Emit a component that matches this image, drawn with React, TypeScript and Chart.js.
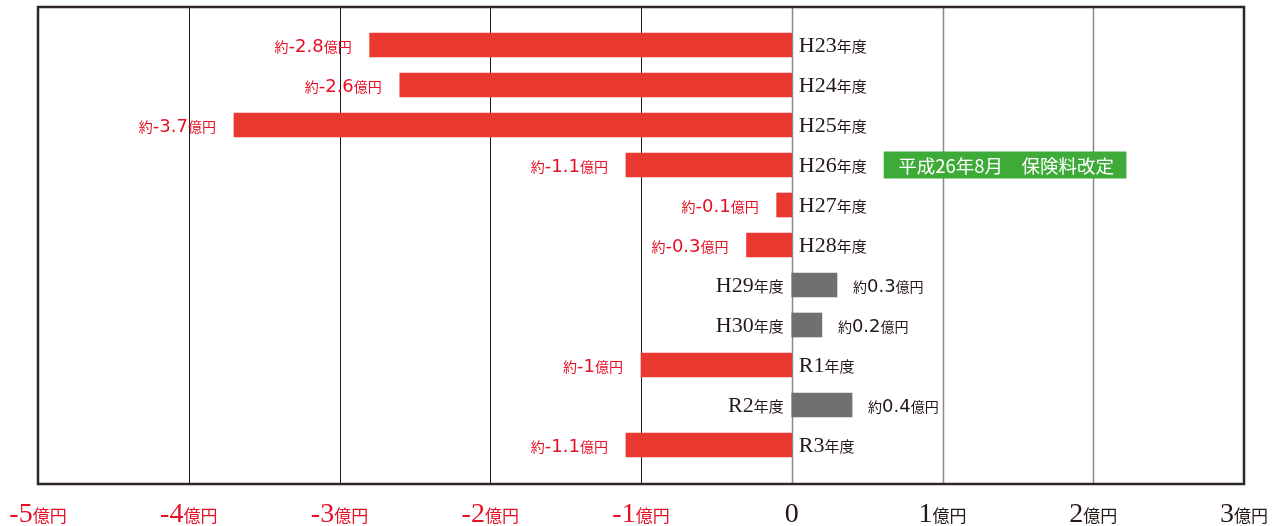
import React, { useEffect, useRef } from "react";
import { Chart, registerables } from "chart.js";

Chart.register(...registerables);

const categories = ["H23", "H24", "H25", "H26", "H27", "H28", "H29", "H30", "R1", "R2", "R3"];
const categorySuffix = "年度";
const values = [-2.8, -2.6, -3.7, -1.1, -0.1, -0.3, 0.3, 0.2, -1, 0.4, -1.1];
const xTicks = [-5, -4, -3, -2, -1, 0, 1, 2, 3];
const unitLabel = "億円";
const approxLabel = "約";
const noteText = "平成26年8月　保険料改定";
const noteRange = [0.61, 2.22];
const noteIndex = 3;

const RED_BAR = "#e8382f";
const RED_TEXT = "#e60f24";
const GRAY_BAR = "#717071";
const INK = "#231815";
const GREEN = "#3eab38";

const SERIF = "'Liberation Serif', serif";
const SANS = "'DejaVu Sans', sans-serif";
const CJK = "'Noto Sans CJK JP', sans-serif";

type Run = { text: string; font: string; color: string };

function drawRuns(ctx: CanvasRenderingContext2D, runs: Run[], x: number, y: number, align: "left" | "right" | "center") {
  ctx.save();
  ctx.textBaseline = "alphabetic";
  ctx.textAlign = "left";
  const widths = runs.map((r) => {
    ctx.font = r.font;
    return ctx.measureText(r.text).width;
  });
  const total = widths.reduce((a, b) => a + b, 0);
  let cx = align === "right" ? x - total : align === "center" ? x - total / 2 : x;
  runs.forEach((r, i) => {
    ctx.font = r.font;
    ctx.fillStyle = r.color;
    ctx.fillText(r.text, cx, y);
    cx += widths[i];
  });
  ctx.restore();
}

const gridPlugin = {
  id: "customGrid",
  beforeDatasetsDraw(chart: any) {
    const { ctx, chartArea, scales } = chart;
    const xs = scales.x;
    ctx.save();
    xTicks.forEach((t) => {
      if (t === xTicks[0] || t === xTicks[xTicks.length - 1]) return;
      const px = Math.round(xs.getPixelForValue(t)) + 0.5;
      ctx.beginPath();
      ctx.strokeStyle = t < 0 ? INK : "#8a8a8a";
      ctx.lineWidth = t < 0 ? 1 : 1.5;
      ctx.moveTo(px, chartArea.top);
      ctx.lineTo(px, chartArea.bottom);
      ctx.stroke();
    });
    ctx.restore();
  },
  afterDatasetsDraw(chart: any) {
    const { ctx, chartArea, scales } = chart;
    const xs = scales.x;
    const ys = scales.y;
    const zero = xs.getPixelForValue(0);

    categories.forEach((c, i) => {
      const v = values[i];
      const cy = ys.getPixelForValue(i);
      const base = cy + 7;
      const catRuns: Run[] = [
        { text: c, font: `22px ${SERIF}`, color: INK },
        { text: categorySuffix, font: `15px ${CJK}`, color: INK },
      ];
      const valColor = v < 0 ? RED_TEXT : INK;
      const valRuns: Run[] = [
        { text: approxLabel, font: `14px ${CJK}`, color: valColor },
        { text: String(v), font: `18px ${SANS}`, color: valColor },
        { text: unitLabel, font: `14px ${CJK}`, color: valColor },
      ];
      const end = xs.getPixelForValue(v);
      if (v < 0) {
        drawRuns(ctx, catRuns, zero + 7, base, "left");
        drawRuns(ctx, valRuns, end - 18, base, "right");
      } else {
        drawRuns(ctx, catRuns, zero - 8, base, "right");
        drawRuns(ctx, valRuns, end + 16, base, "left");
      }
    });

    // note box
    const nx0 = xs.getPixelForValue(noteRange[0]);
    const nx1 = xs.getPixelForValue(noteRange[1]);
    const ncy = ys.getPixelForValue(noteIndex);
    ctx.save();
    ctx.fillStyle = GREEN;
    ctx.fillRect(nx0, ncy - 13.5, nx1 - nx0, 27);
    ctx.font = `18.5px ${CJK}`;
    ctx.fillStyle = "#ffffff";
    ctx.textAlign = "center";
    ctx.textBaseline = "middle";
    ctx.fillText(noteText, (nx0 + nx1) / 2 + 1, ncy + 1);
    ctx.restore();

    // border
    ctx.save();
    ctx.strokeStyle = "#2f2725";
    ctx.lineWidth = 2.5;
    ctx.strokeRect(chartArea.left, chartArea.top, chartArea.right - chartArea.left, chartArea.bottom - chartArea.top);
    ctx.restore();

    // x tick labels
    xTicks.forEach((t) => {
      const px = xs.getPixelForValue(t);
      const color = t < 0 ? RED_TEXT : INK;
      const runs: Run[] = [{ text: String(t), font: `28px ${SERIF}`, color }];
      if (t !== 0) runs.push({ text: unitLabel, font: `17px ${CJK}`, color });
      drawRuns(ctx, runs, px, chartArea.bottom + 38, "center");
    });
  },
};

export default function App() {
  const ref = useRef<HTMLCanvasElement | null>(null);
  useEffect(() => {
    document.body.style.margin = "0";
    if (!ref.current) return;
    const chart = new Chart(ref.current, {
      type: "bar",
      data: {
        datasets: [
          {
            data: values.map((v, i) => ({ x: v, y: i })),
            backgroundColor: values.map((v) => (v < 0 ? RED_BAR : GRAY_BAR)),
            barThickness: 24,
            borderWidth: 0,
          },
        ],
      },
      options: {
        indexAxis: "y",
        animation: false,
        responsive: false,
        maintainAspectRatio: false,
        layout: { padding: { left: 38, right: 34, top: 7, bottom: 42 } },
        plugins: { legend: { display: false }, tooltip: { enabled: false } },
        scales: {
          x: { type: "linear", min: -5, max: 3, display: false, offset: false },
          y: { type: "linear", min: -0.95, max: 10.975, reverse: true, display: false, offset: false },
        },
      },
      plugins: [gridPlugin],
    } as any);
    return () => chart.destroy();
  }, []);
  return (
    <div style={{ width: 1278, height: 526 }}>
      <canvas ref={ref} width={1278} height={526} style={{ display: "block" }} />
    </div>
  );
}
